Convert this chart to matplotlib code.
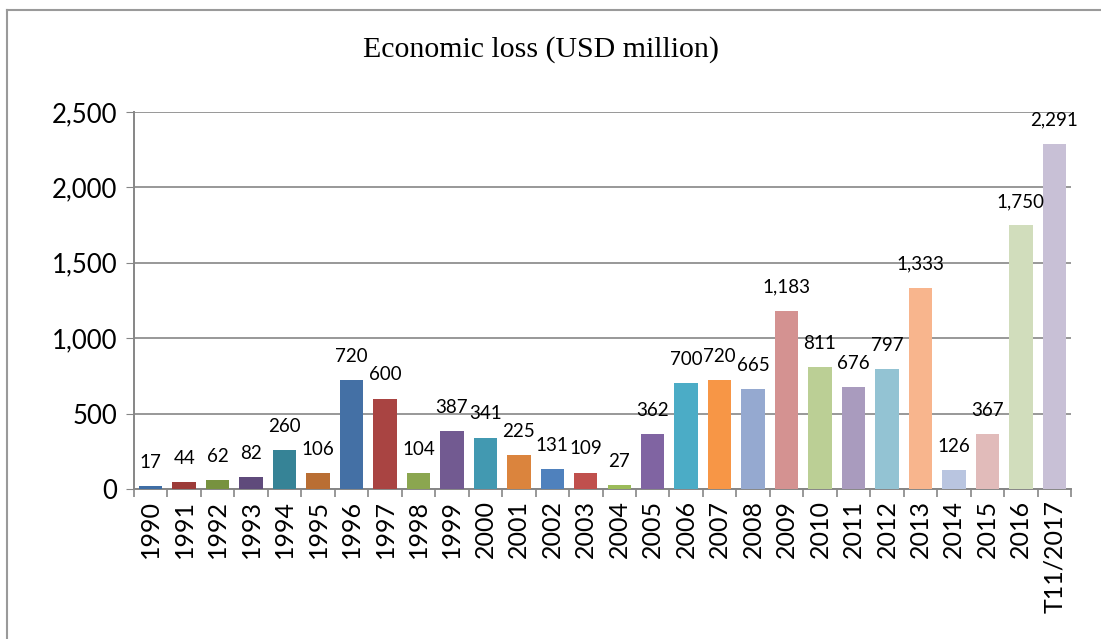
import matplotlib.pyplot as plt
from matplotlib.lines import Line2D
from matplotlib.ticker import FuncFormatter, FixedLocator

years = ["1990", "1991", "1992", "1993", "1994", "1995", "1996", "1997", "1998", "1999",
         "2000", "2001", "2002", "2003", "2004", "2005", "2006", "2007", "2008", "2009",
         "2010", "2011", "2012", "2013", "2014", "2015", "2016", "T11/2017"]
loss = [17, 44, 62, 82, 260, 106, 720, 600, 104, 387,
        341, 225, 131, 109, 27, 362, 700, 720, 665, 1183,
        811, 676, 797, 1333, 126, 367, 1750, 2291]
colors = ["#3F6EA5", "#9C3B38", "#77923F", "#5F4A7B", "#368396", "#B96E33",
          "#4470A5", "#A94442", "#8BA650", "#725A91", "#4299B1", "#DB843D",
          "#4F81BD", "#C0504D", "#9BBB59", "#8064A2", "#4BACC6", "#F79646",
          "#95A9D0", "#D49291", "#BBCF95", "#A99BBE", "#93C3D3", "#F8B58D",
          "#B9C5E0", "#E1BBBA", "#D1DDBC", "#C8C0D6"]

plt.rcParams['font.family'] = ['Lato', 'DejaVu Sans']
grey = "#868686"

fig = plt.figure(figsize=(11.01, 6.39), dpi=100)
ax = fig.add_axes([134/1101, 1-489/639, (1071-134)/1101, (489-112)/639])

x = list(range(len(years)))
bars = ax.bar(x, loss, width=0.7, color=colors, zorder=3)
for xi, v in zip(x, loss):
    ax.annotate(f"{v:,}", (xi, v), xytext=(0, 17), textcoords="offset points",
                ha="center", va="center", fontsize=13.5)

ax.set_xlim(-0.5, len(years) - 0.5)
ax.set_ylim(0, 2500)
ax.set_yticks([0, 500, 1000, 1500, 2000, 2500])
ax.yaxis.set_major_formatter(FuncFormatter(lambda v, p: f"{int(v):,}"))
ax.tick_params(axis="y", labelsize=18.5, length=6, color=grey, pad=6)
ax.grid(axis="y", color=grey, linewidth=1.2, zorder=0)

ax.set_xticks(x)
ax.set_xticklabels(years, rotation=90, fontsize=18)
ax.xaxis.set_minor_locator(FixedLocator([i - 0.5 for i in range(len(years) + 1)]))
ax.tick_params(axis="x", which="major", length=0, pad=8)
ax.tick_params(axis="x", which="minor", length=6, color=grey, width=1.2)

for s in ["top", "right"]:
    ax.spines[s].set_visible(False)
for s in ["left", "bottom"]:
    ax.spines[s].set_color(grey)
    ax.spines[s].set_linewidth(1.4)

fig.text(541/1101, 1-50/639, "Economic loss (USD million)", ha="center", va="center",
         fontsize=21.5, family="Liberation Serif")

# outer chart frame
fig.add_artist(Line2D([7/1101, 7/1101], [0, 1-10/639], color="#9a9a9a", linewidth=1.5))
fig.add_artist(Line2D([7/1101, 1], [1-10/639, 1-10/639], color="#9a9a9a", linewidth=1.5))

plt.savefig("out.png", dpi=100)
